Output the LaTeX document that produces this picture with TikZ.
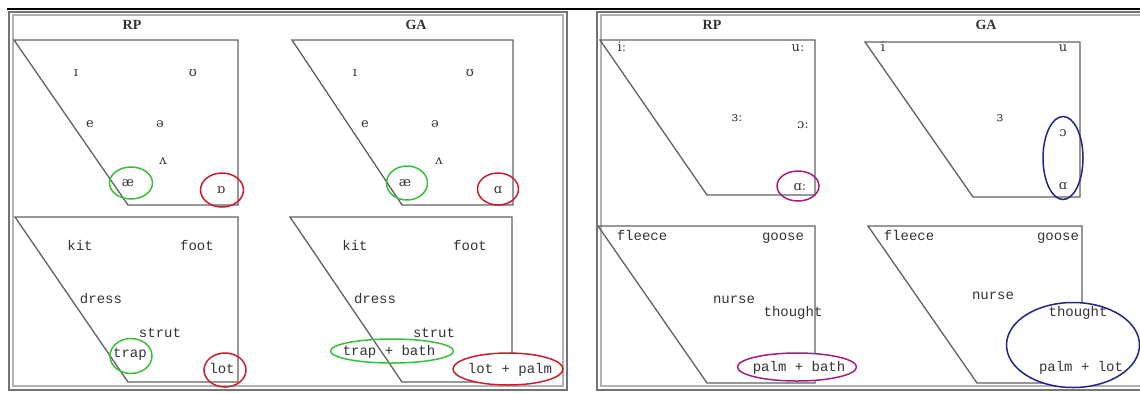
\documentclass[tikz,border=0pt]{standalone}
\usepackage{fontspec}
\setmainfont{DejaVu Serif}
\newfontfamily\wordfont{Liberation Mono}
\newfontfamily\ipafont{DejaVu Serif}
\newfontfamily\headfont{Liberation Serif}
\usetikzlibrary{calc,shapes}

\definecolor{ringgreen}{RGB}{60,190,60}
\definecolor{ringred}{RGB}{200,30,45}
\definecolor{ringpurple}{RGB}{165,30,125}
\definecolor{ringblue}{RGB}{35,35,140}

\tikzset{
  chart/.style={draw=black!62, line width=1.3pt, line join=miter},
  frameout/.style={draw=black!55, line width=1.4pt},
  framein/.style={draw=black!30, line width=1.4pt},
  vowel/.style={font=\ipafont\fontsize{13}{13}\selectfont, text=black!80, inner sep=0pt,
                text height=7pt, text depth=0pt},
  word/.style={font=\wordfont\fontsize{14}{14}\selectfont, text=black!80, inner sep=0pt,
               text height=8pt, text depth=1pt},
  head/.style={font=\headfont\bfseries\fontsize{14}{14}\selectfont, text=black!80, inner sep=0pt},
  ring/.style={ellipse, draw, line width=1.5pt, inner sep=0pt},
}

\begin{document}
\begin{tikzpicture}[x=1pt,y=-1pt]
    \useasboundingbox (0,0) rectangle (1140,392);
    \clip (0,0) rectangle (1140,392);
    \fill[white] (0,0) rectangle (1140,392);

    % rule and the two panels
    \draw[black, line width=1.2pt] (7,9) -- (1140,9);
    \draw[frameout] (9,12) rectangle (567,390);
    \draw[framein] (13,15) rectangle (563,386);
    \draw[frameout] (597,12) rectangle (1150,390);
    \draw[framein] (601,15) rectangle (1146,386);

    \node[head] (hRPl) at (132,25) {RP};
    \node[head] (hGAl) at (416,25) {GA};
    \node[head] (hRPr) at (712,25) {RP};
    \node[head] (hGAr) at (986,25) {GA};

    % vowel charts
    \foreach \a/\b/\c/\d/\e in {14/238/128/40/205, 292/513/402/40/205,
                                15/238/128/217/382, 290/512/402/217/382,
                                600/815/707/40/195, 865/1080/973/42/197,
                                598/815/707/226/383, 868/1082/977/226/383}
        \draw[chart] (\a,\d) -- (\b,\d) -- (\b,\e) -- (\c,\e) -- cycle;

    % short vowels
    \foreach \x/\y/\t/\n in {76/73/ɪ/sI, 193/73/ʊ/sU, 90/124/e/sE, 160/124/ə/sSchwa,
                             163/161/ʌ/sWedge, 128/183/æ/sAsh, 221/190/ɒ/sLot}
        \node[vowel] (rp\n) at (\x,\y) {\t};
    \foreach \x/\y/\t/\n in {355/73/ɪ/sI, 470/73/ʊ/sU, 365/124/e/sE, 435/124/ə/sSchwa,
                             439/161/ʌ/sWedge, 405/183/æ/sAsh, 498/190/ɑ/sLot}
        \node[vowel] (ga\n) at (\x,\y) {\t};

    \node[ring, ringgreen, minimum width=43, minimum height=32] (rpAshRing) at (131,183) {};
    \node[ring, ringred, minimum width=43, minimum height=34] (rpLotRing) at (222,190) {};
    \node[ring, ringgreen, minimum width=41, minimum height=34] (gaAshRing) at (407,183) {};
    \node[ring, ringred, minimum width=41, minimum height=32] (gaLotRing) at (498,189) {};

    \foreach \x/\y/\t/\n in {80/247/kit/wKit, 197/247/foot/wFoot, 101/300/dress/wDress,
                             160/334/strut/wStrut, 130/354/trap/wTrap, 222/370/lot/wLot}
        \node[word] (rp\n) at (\x,\y) {\t};
    \node[ring, ringgreen, minimum width=42, minimum height=35] (rpTrapRing) at (131,356) {};
    \node[ring, ringred, minimum width=42, minimum height=34] (rpLotWRing) at (225,370) {};

    \foreach \x/\y/\t/\n in {355/247/kit/wKit, 470/247/foot/wFoot, 375/300/dress/wDress,
                             434/334/strut/wStrut}
        \node[word] (ga\n) at (\x,\y) {\t};
    \node[ring, ringgreen, minimum width=123, minimum height=24] (gaTrapRing) at (392,351) {};
    \node[ring, ringred, fill=white, minimum width=110, minimum height=32] (gaLotWRing) at (508,369) {};
    \node[word] (gaTrap) at (389,352) {trap + bath};
    \node[word] (gaLot) at (510,370) {lot + palm};

    % long vowels
    \foreach \x/\y/\t/\n in {622/48/iː/lI, 798/48/uː/lU, 737/118/ɜː/lNurse,
                             803/125/ɔː/lThought, 800/187/ɑː/lPalm}
        \node[vowel] (rp\n) at (\x,\y) {\t};
    \node[ring, ringpurple, minimum width=42, minimum height=30] (rpPalmRing) at (798,186) {};

    \node[ring, ringblue, minimum width=40, minimum height=83] (gaBackRing) at (1063,158) {};
    \foreach \x/\y/\t/\n in {883/48/i/lI, 1063/48/u/lU, 1000/118/ɜ/lNurse,
                             1063/133/ɔ/lThought, 1063/186/ɑ/lPalm}
        \node[vowel] (ga\n) at (\x,\y) {\t};

    \node[ring, ringpurple, fill=white, minimum width=119, minimum height=28] (rpBathRing) at (797,367) {};
    \foreach \x/\y/\t/\n in {642/237/fleece/wFleece, 783/237/goose/wGoose, 734/300/nurse/wNurse,
                             793/313/thought/wThought, 799/368/palm + bath/wPalm}
        \node[word] (rp\n) at (\x,\y) {\t};

    \node[ring, ringblue, fill=white, minimum width=133, minimum height=85] (gaLotPalmRing) at (1073,345) {};
    \foreach \x/\y/\t/\n in {909/237/fleece/wFleece, 1058/237/goose/wGoose, 993/296/nurse/wNurse,
                             1078/313/thought/wThought, 1081/368/palm + lot/wPalm}
        \node[word] (ga\n) at (\x,\y) {\t};
\end{tikzpicture}
\end{document}
